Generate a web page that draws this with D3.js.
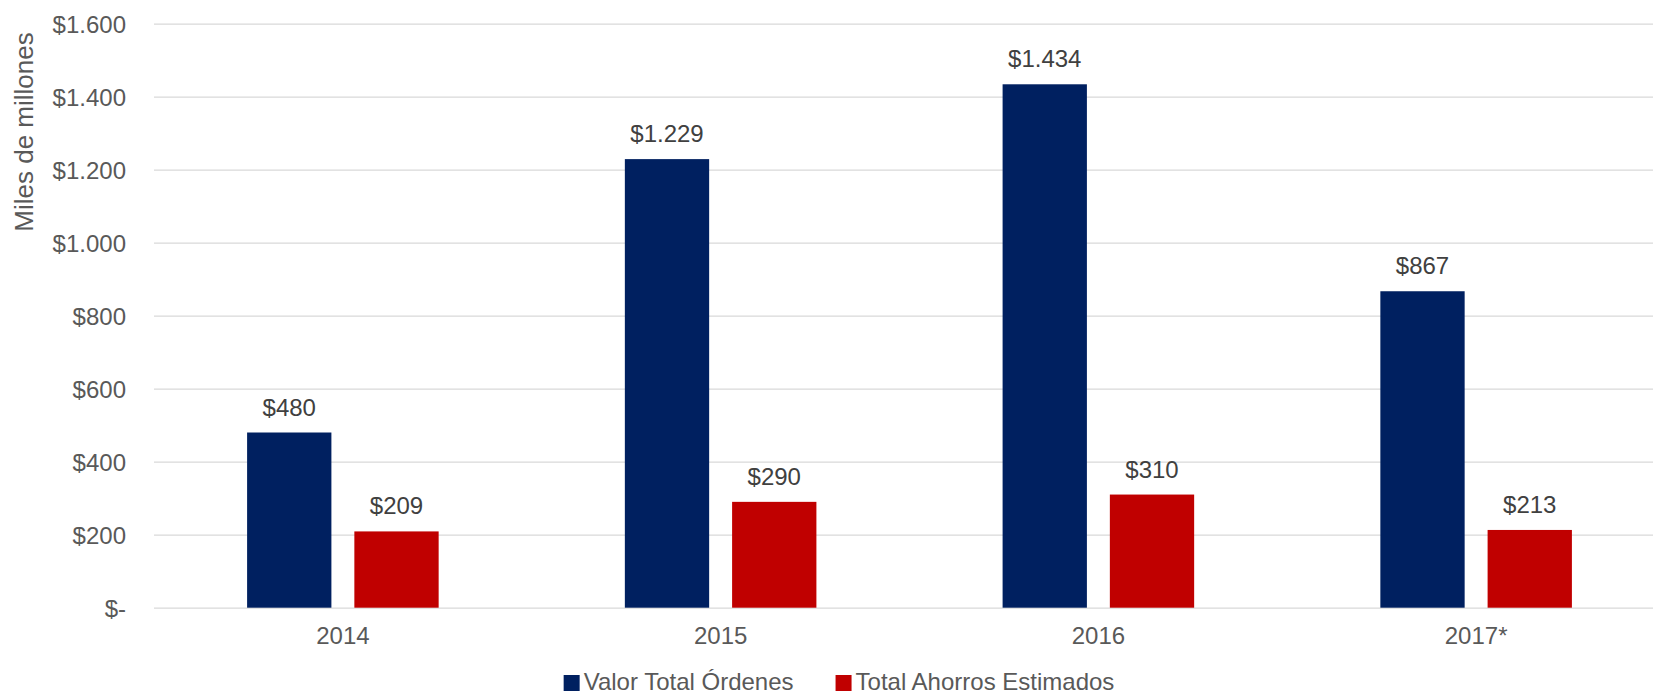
<!DOCTYPE html>
<html>
<head>
<meta charset="utf-8">
<script src="https://cdn.jsdelivr.net/npm/d3@7"></script>
<style>
  body { margin: 0; background: #fff; }
  svg { display: block; font-family: "Liberation Sans", Arial, sans-serif; }
  .grid line { stroke: #d9d9d9; stroke-width: 1.3; }
  .grid path { display: none; }
  .y-axis text, .x-axis text { fill: #595959; font-size: 24px; }
</style>
</head>
<body>
<div id="chart"></div>
<script>
// data
var years = ["2014", "2015", "2016", "2017*"]
var seriesNames = ["Valor Total Órdenes", "Total Ahorros Estimados"]
var valorTotal = [480, 1229, 1434, 867]
var ahorros = [209, 290, 310, 213]
var yTicks = [0, 200, 400, 600, 800, 1000, 1200, 1400, 1600]
var colors = ["#002060", "#c00000"]

var width = 1653
var height = 697
var margin = { top: 23.7, bottom: 89.3, left: 154, right: -12 }

var rows = years.map((y, i) => ({ year: y, values: [valorTotal[i], ahorros[i]] }))

// Spanish style number: $1.229
var fmt = d => d === 0 ? "$-" : "$" + d3.format(",")(d).replace(/,/g, ".")

var svg = d3.select("#chart")
  .append("svg")
  .attr("width", width)
  .attr("height", height)

// X scales
var xScale = d3.scaleBand()
  .domain(years)
  .range([margin.left, width - margin.right])

var xInner = d3.scaleBand()
  .domain(seriesNames)
  .range([0, xScale.bandwidth()])
  .paddingInner(0.214)
  .paddingOuter(0.868)

// Y scale
var yScale = d3.scaleLinear()
  .domain([0, 1600])
  .range([height - margin.bottom, margin.top])

// Render Y grid + labels
var yAxis = d3.axisLeft(yScale)
  .tickValues(yTicks)
  .tickSize(-(width - margin.right - margin.left))
  .tickPadding(28)
  .tickFormat(fmt)

svg.append("g")
  .attr("class", "grid y-axis")
  .attr("transform", `translate(${margin.left},0)`)
  .call(yAxis)
  .selectAll("text")
  .attr("dy", "0.35em")

// Y label
svg.append("text")
  .attr("text-anchor", "middle")
  .attr("transform", `translate(33,132) rotate(-90)`)
  .style("font-size", "26px")
  .style("fill", "#595959")
  .text("Miles de millones")

// Render X axis
svg.append("g")
  .attr("class", "x-axis")
  .attr("transform", `translate(0,${height - margin.bottom})`)
  .call(d3.axisBottom(xScale).tickSize(0).tickPadding(0))
  .call(g => g.select(".domain").remove())
  .selectAll("text")
  .attr("y", 36.5)
  .attr("dy", 0)

// Bars
var groups = svg.append("g")
  .attr("class", "bars")
  .selectAll("g")
  .data(rows)
  .enter()
  .append("g")
  .attr("transform", d => `translate(${xScale(d.year)},0)`)

groups.selectAll("rect")
  .data(d => d.values.map((v, i) => ({ name: seriesNames[i], value: v, idx: i })))
  .enter()
  .append("rect")
  .attr("x", d => xInner(d.name))
  .attr("width", xInner.bandwidth())
  .attr("y", d => yScale(d.value))
  .attr("height", d => yScale(0) - yScale(d.value))
  .style("fill", d => colors[d.idx])

groups.selectAll("text")
  .data(d => d.values.map((v, i) => ({ name: seriesNames[i], value: v })))
  .enter()
  .append("text")
  .attr("x", d => xInner(d.name) + xInner.bandwidth() / 2)
  .attr("y", d => yScale(d.value) - 17)
  .attr("text-anchor", "middle")
  .style("font-size", "24px")
  .style("fill", "#404040")
  .text(d => fmt(d.value))

// Legend
var legend = svg.append("g").attr("class", "legend")
var lx = 0
seriesNames.forEach((name, i) => {
  var g = legend.append("g")
  g.append("rect")
    .attr("x", 0)
    .attr("y", -15)
    .attr("width", 16)
    .attr("height", 16)
    .style("fill", colors[i])
  var t = g.append("text")
    .attr("x", 20)
    .attr("y", 0)
    .style("font-size", "24px")
    .style("fill", "#595959")
    .text(name)
  var w = 20 + t.node().getComputedTextLength()
  g.attr("transform", `translate(${lx},0)`)
  lx += w + 42
})
var legendWidth = lx - 42
legend.attr("transform", `translate(${839 - legendWidth / 2},690)`)
</script>
</body>
</html>
